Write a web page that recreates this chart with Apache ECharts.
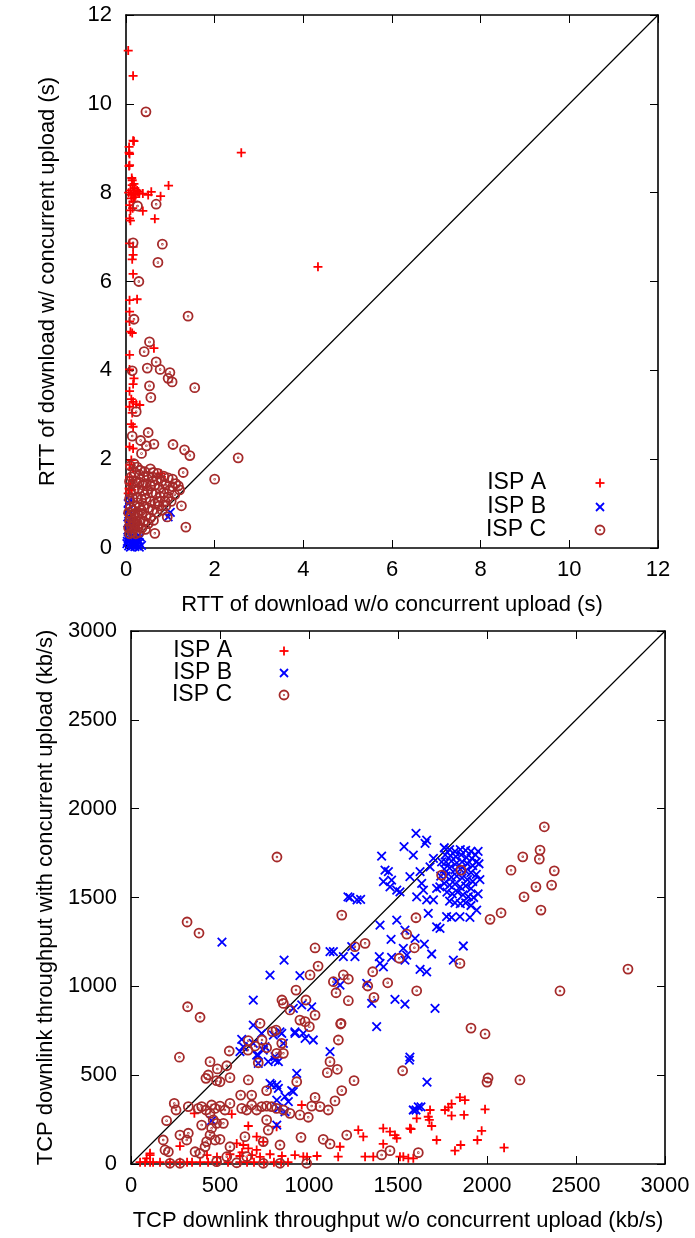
<!DOCTYPE html>
<html>
<head>
<meta charset="utf-8">
<script src="https://cdn.jsdelivr.net/npm/echarts@6/dist/echarts.min.js"></script>
<style>
  html, body { margin: 0; padding: 0; background: #fff; }
  #chart { width: 695px; height: 1238px; }
</style>
</head>
<body>
<div id="chart"></div>
<script>
// ---- series names and axis titles ----
const ispNames = ['ISP A', 'ISP B', 'ISP C'];
const rttXTitle = 'RTT of download w/o concurrent upload (s)';
const rttYTitle = 'RTT of download w/ concurrent upload (s)';
const tputXTitle = 'TCP downlink throughput w/o concurrent upload (kb/s)';
const tputYTitle = 'TCP downlink throughput with concurrent upload (kb/s)';

// ---- RTT (seconds): [without upload, with upload] ----
const rttIspA = [
  [0.05,11.2],[0.16,10.63],[0.18,9.16],[0.07,9.03],[0.07,8.9],[0.07,8.6],[0.13,8.33],
  [0.96,8.16],[0.78,7.92],[0.57,8.02],[0.5,7.95],[0.38,7.98],[0.27,8.02],[0.16,7.98],
  [0.14,8.28],[0.14,8.17],[0.12,7.87],[0.16,7.8],[0.08,7.72],[0.38,7.59],[0.65,7.41],
  [0.08,7.42],[0.1,7.37],[0.08,6.86],[0.16,6.78],[0.16,6.6],[0.14,6.5],[0.16,6.17],
  [0.08,8.62],[0.08,8.87],[0.16,9.17],[0.1,8.05],[0.2,8.1],[0.22,7.95],[0.3,7.98],
  [0.12,7.95],[0.06,8.0],[0.18,8.2],[0.25,8.05],[0.1,7.6],[0.15,7.65],[0.2,7.9],
  [2.6,8.9],[4.33,6.33],
  [0.08,5.58],[0.25,5.6],[0.08,5.32],[0.08,5.1],[0.1,4.87],[0.14,4.84],[0.63,4.5],
  [0.08,4.35],[0.08,4.02],[0.18,3.82],[0.16,3.69],[0.08,3.53],[0.12,3.35],[0.16,3.29],
  [0.23,3.24],[0.31,3.22],[0.08,3.18],[0.14,3.04],[0.12,2.79],[0.16,2.73],[0.08,2.28],
  [0.16,2.24],[0.12,1.98],[0.08,1.87],[0.16,1.79],[0.08,1.6],[0.16,1.53],[0.08,1.31],
  [0.05,1.23],[0.78,1.68],[0.8,1.6],[0.07,1.34],[0.13,1.31],[0.16,1.8],[0.1,1.45]
];
const rttIspB = [
  [0.05,1.0],[0.08,1.08],[0.05,0.86],[0.95,0.7],[1.0,0.8],[0.06,0.6],[0.1,0.5],
  [0.04,0.4],[0.08,0.3],[0.12,0.25],[0.15,0.2],[0.2,0.15],[0.25,0.1],[0.3,0.12],
  [0.05,0.2],[0.1,0.1],[0.15,0.05],[0.2,0.03],[0.25,0.05],[0.3,0.02],[0.35,0.06],
  [0.02,0.1],[0.06,0.05],[0.1,0.02],[0.18,0.08],[0.28,0.18],[0.04,0.7],[0.03,0.15],
  [0.22,0.22],[0.12,0.4],[0.32,0.25],[0.16,0.12]
];
const rttIspC = [
  [0.45,9.82],[0.26,7.7],[0.68,7.74],[0.16,6.87],[0.82,6.84],[0.72,6.43],[0.29,6.0],
  [1.4,5.22],[0.18,5.15],[0.53,4.64],[0.41,4.42],[0.68,4.19],[0.48,4.05],[0.77,4.02],
  [0.99,3.95],[0.95,3.82],[1.04,3.74],[1.55,3.61],[0.53,3.65],[0.56,3.39],[0.14,3.99],
  [0.23,3.07],[0.5,2.6],[0.14,2.52],[0.33,2.42],[0.46,2.3],[0.63,2.34],[1.06,2.33],
  [0.35,2.13],[1.32,2.21],[1.44,2.08],[2.0,1.55],[1.35,0.47],[0.65,0.33],[1.29,1.7],
  [1.21,1.31],[1.25,0.95],[0.93,0.7],[2.53,2.03],
  [0.1,1.85],[0.18,1.9],[0.25,1.82],[0.32,1.75],[0.42,1.72],[0.55,1.78],[0.62,1.7],
  [0.72,1.68],[0.85,1.62],[0.95,1.58],[1.05,1.55],[1.12,1.45],[1.18,1.4],[1.05,1.38],
  [0.98,1.3],[0.9,1.42],[0.8,1.5],[0.7,1.55],[0.6,1.6],[0.5,1.62],[0.4,1.6],[0.3,1.65],
  [0.2,1.7],[0.12,1.6],[0.08,1.5],[0.15,1.45],[0.22,1.5],[0.3,1.48],[0.38,1.42],
  [0.45,1.45],[0.55,1.4],[0.65,1.42],[0.75,1.35],[0.85,1.25],[0.95,1.15],[1.02,1.05],
  [0.88,1.05],[0.78,1.15],[0.68,1.22],[0.58,1.25],[0.48,1.3],[0.38,1.28],[0.28,1.32],
  [0.18,1.3],[0.1,1.25],[0.08,1.1],[0.15,1.12],[0.25,1.15],[0.35,1.1],[0.45,1.12],
  [0.55,1.05],[0.65,1.0],[0.75,0.95],[0.82,0.85],[0.7,0.8],[0.6,0.85],[0.5,0.9],
  [0.4,0.95],[0.3,0.92],[0.2,0.95],[0.1,0.92],[0.06,0.8],[0.12,0.75],[0.2,0.78],
  [0.28,0.75],[0.36,0.78],[0.45,0.72],[0.55,0.68],[0.62,0.62],[0.5,0.55],[0.4,0.6],
  [0.32,0.62],[0.24,0.6],[0.16,0.62],[0.08,0.6],[0.06,0.45],[0.12,0.48],[0.2,0.45],
  [0.28,0.48],[0.36,0.45],[0.44,0.42],[0.3,0.35],[0.22,0.32],[0.14,0.35],[0.08,0.32],
  [0.18,0.55],[0.26,0.52],[0.1,0.68],[0.15,0.85],[0.25,1.02],[0.35,0.85],[0.42,1.2],
  [0.6,1.5],[0.9,0.95],[1.1,1.2],[0.72,1.05]
];

// ---- TCP downlink throughput (kb/s): [without upload, with upload] ----
const tputIspA = [
  [51,10],[79,10],[107,10],[124,10],[163,10],[219,10],[275,10],[315,10],[343,10],
  [388,10],[433,10],[483,10],[545,10],[612,10],[652,10],[691,10],[747,10],[803,10],
  [843,10],[882,10],[107,50],[427,50],[483,40],[556,55],[612,45],[624,65],[680,50],
  [725,40],[781,55],[848,45],[921,50],[989,40],[1045,45],[88,32],[107,60],[275,101],
  [594,116],[631,107],[659,88],[706,79],[706,154],[743,125],[659,214],[566,281],
  [356,285],[959,332],[818,210],[1174,97],[1277,191],[1305,154],[1417,201],[1455,182],
  [1483,163],[1493,145],[1417,113],[1567,201],[1605,257],[1164,41],[1315,41],[1361,41],
  [1530,41],[1586,32],[1511,41],[1558,32],[1573,197],[1680,304],[1676,248],[1689,214],
  [1670,266],[1717,135],[1764,304],[1783,319],[1801,338],[1801,272],[1848,375],
  [1876,360],[1871,276],[1820,75],[1852,107],[1946,135],[1970,187],[1989,308],
  [2096,92],[968,41]
];
const tputIspB = [
  [1601,1861],[1661,1823],[1652,1805],[1534,1786],[1408,1733],[1586,1739],[1427,1654],
  [1446,1645],[1418,1589],[1464,1598],[1455,1560],[1493,1542],[1511,1532],[1230,1499],
  [1290,1490],[1567,1617],[1624,1645],[1633,1579],[1680,1673],[1699,1720],[1605,1504],
  [1643,1542],[1661,1486],[1699,1486],[1717,1551],[1773,1392],[1801,1388],[1848,1392],
  [1904,1388],[1942,1429],[1670,1411],[1717,1335],[1736,1326],[1493,1373],[1399,1345],
  [1461,1264],[1539,1317],[1596,1270],[1648,1238],[1867,1227],[1689,1182],[1395,1167],
  [1399,1129],[1418,1110],[1530,1214],[1549,1176],[1539,1148],[1464,1163],[1624,1096],
  [1661,1082],[1811,1148],[1483,927],[1539,900],[1708,876],[1352,904],[1380,773],
  [1118,1195],[1137,1195],[1193,1167],[1240,1223],[1258,1167],[1156,1026],[1174,1007],
  [1324,1017],[1219,1503],[1270,1486],[1567,602],[1663,461],[1601,304],[1629,321],
  [1760,1780],[1790,1770],[1820,1760],[1850,1770],[1880,1765],[1910,1760],[1935,1740],
  [1765,1740],[1795,1735],[1825,1730],[1855,1740],[1885,1725],[1915,1720],[1940,1700],
  [1770,1700],[1800,1705],[1830,1695],[1860,1700],[1890,1690],[1920,1680],[1760,1660],
  [1790,1665],[1820,1655],[1850,1660],[1880,1650],[1910,1640],[1940,1630],[1770,1620],
  [1800,1615],[1830,1620],[1860,1610],[1890,1600],[1920,1590],[1760,1580],[1790,1570],
  [1820,1575],[1850,1560],[1880,1565],[1910,1550],[1775,1530],[1805,1520],[1835,1530],
  [1865,1515],[1895,1505],[1925,1500],[1790,1480],[1820,1470],[1850,1465],[1880,1470],
  [1910,1455],[1745,1700],[1740,1620],[1735,1560],[1950,1760],[1955,1690],[1960,1600],
  [1950,1520],
  [511,1249],[612,632],[631,660],[687,679],[715,613],[743,641],[715,566],[771,576],
  [809,604],[828,576],[800,726],[847,735],[921,735],[781,454],[819,445],[828,426],
  [865,379],[884,351],[912,407],[819,360],[828,313],[865,294],[819,219],[931,510],
  [978,707],[453,244],[622,702],[687,782],[734,735],[753,660],[706,613],[809,585],
  [856,679],[837,744],[921,744],[968,735],[1024,698],[687,923],[912,876],[959,895],
  [1015,885],[1118,632],[790,445],[903,413],[1564,585],[1586,304],[1614,322],
  [781,1063],[860,1148],[949,1060]
];
const tputIspC = [
  [820,1728],[2322,1898],[2298,1767],[2294,1716],[2201,1729],[2135,1654],[2378,1650],
  [2275,1560],[2363,1570],[2208,1504],[2303,1429],[2017,1377],[2079,1414],[1854,1654],
  [1745,1626],[1601,1386],[1549,1294],[1592,1217],[1507,1158],[2792,1097],[2410,974],
  [2185,473],[2006,484],[2000,461],[1910,765],[1989,732],[1526,525],[1614,64],
  [1848,1129],[1184,1401],[1315,1242],[1258,1223],[1358,1082],[1193,1064],[1221,1041],
  [1137,1026],[1152,964],[1330,1002],[1365,938],[1442,1020],[1605,975],[1221,919],
  [1180,792],[318,885],[388,826],[272,601],[444,576],[485,535],[538,553],[434,501],
  [421,482],[481,469],[556,486],[500,463],[552,636],[659,473],[725,792],[659,694],
  [697,664],[762,654],[794,745],[847,679],[818,623],[856,623],[715,570],[856,904],
  [978,801],[1002,773],[1034,838],[1178,788],[1165,698],[1118,576],[1103,514],
  [1159,533],[931,463],[762,413],[1253,469],[1184,413],[1146,355],[1108,304],[1034,375],
  [1015,326],[378,313],[397,323],[421,304],[453,332],[472,313],[500,326],[528,304],
  [556,341],[622,313],[650,304],[678,332],[706,304],[734,323],[762,326],[790,323],
  [818,313],[856,304],[893,285],[949,276],[996,263],[1062,323],[322,323],[243,341],
  [253,304],[200,244],[444,285],[462,248],[453,201],[444,163],[481,229],[519,229],
  [397,219],[500,139],[425,126],[416,97],[472,135],[556,97],[616,388],[678,388],
  [762,248],[771,191],[743,126],[837,107],[640,154],[650,41],[594,7],[538,41],[481,13],
  [388,60],[360,69],[313,135],[275,163],[322,173],[181,135],[210,69],[191,79],[275,4],
  [219,4],[955,150],[1080,139],[1118,113],[987,4],[837,4],[743,4],[1212,163],[1408,51],
  [1455,75],[315,1362],[382,1300],[1034,1216],[1051,1114],[1006,1064],[927,979],
  [983,923],[893,867],[848,923],[949,810],[815,754],[736,698],[657,641]
];

// ---- styling ----
const FONT = '"Liberation Sans", Arial, Helvetica, sans-serif';
const RED = '#ff0000', BLUE = '#0000ff', BROWN = '#a52a2a';
const SYM_PLUS = 'path://M0,5L10,5M5,0L5,10';
const SYM_CROSS = 'path://M0,0L10,10M10,0L0,10';
const SYM_RING = 'path://M0,5A5,5,0,1,1,10,5A5,5,0,1,1,0,5ZM4.6,5A0.4,0.4,0,1,1,5.4,5A0.4,0.4,0,1,1,4.6,5Z';

const grids = [
  { left: 126, top: 15, width: 532, height: 533 },
  { left: 131, top: 631, width: 534, height: 533 }
];
const ranges = [
  { max: 12, interval: 2 },
  { max: 3000, interval: 500 }
];

function axisPair(gridIndex, isX, name) {
  const r = ranges[gridIndex];
  const common = {
    gridIndex, type: 'value', min: 0, max: r.max, interval: r.interval,
    splitLine: { show: false },
    axisLine: { show: true, onZero: false, lineStyle: { color: '#000', width: 1.6 } },
    axisTick: { show: true, inside: true, length: 8, lineStyle: { color: '#000', width: 1 } }
  };
  const main = Object.assign({}, common, {
    position: isX ? 'bottom' : 'left',
    name, nameLocation: 'middle',
    nameGap: isX ? 46 : 67,
    nameTextStyle: { fontFamily: FONT, fontSize: 22, color: '#000' },
    axisLabel: {
      show: true, fontFamily: FONT, fontSize: 22, color: '#000',
      margin: isX ? 11 : 14,
      formatter: v => String(v)
    }
  });
  const mirror = Object.assign({}, common, {
    position: isX ? 'top' : 'right',
    axisLabel: { show: false }
  });
  return [main, mirror];
}

const xAxes = [...axisPair(0, true, rttXTitle), ...axisPair(1, true, tputXTitle)];
const yAxes = [...axisPair(0, false, rttYTitle), ...axisPair(1, false, tputYTitle)];

function scatter(name, data, gi, symbol, color, size, width) {
  return {
    name, type: 'scatter', data, xAxisIndex: gi * 2, yAxisIndex: gi * 2,
    symbol, symbolSize: size, silent: true, animation: false,
    itemStyle: { color: 'rgba(0,0,0,0)', borderColor: color, borderWidth: width, opacity: 1 }
  };
}
function diagonal(gi) {
  const m = ranges[gi].max;
  return {
    type: 'line', data: [[0, 0], [m, m]], xAxisIndex: gi * 2, yAxisIndex: gi * 2,
    showSymbol: false, silent: true, animation: false, z: 1,
    lineStyle: { color: '#000', width: 1.2 }
  };
}

const groups = [[rttIspA, rttIspB, rttIspC], [tputIspA, tputIspB, tputIspC]];
const series = [];
[0, 1].forEach(gi => {
  series.push(diagonal(gi));
  series.push(scatter(ispNames[0], groups[gi][0], gi, SYM_PLUS, RED, 9, 1.8));
  series.push(scatter(ispNames[1], groups[gi][1], gi, SYM_CROSS, BLUE, 8.5, 1.8));
  series.push(scatter(ispNames[2], groups[gi][2], gi, SYM_RING, BROWN, 9, 1.8));
});

// key: right-aligned names with their markers to the right
function keyBlock(textRight, markX, rows) {
  const els = [];
  const colors = [RED, BLUE, BROWN];
  rows.forEach((y, i) => {
    els.push({
      type: 'text', x: textRight, y,
      style: { text: ispNames[i], font: '23px ' + FONT, fill: '#000',
               textAlign: 'right', textVerticalAlign: 'middle', align: 'right', verticalAlign: 'middle' }
    });
    const c = colors[i];
    const ls = { stroke: c, lineWidth: 1.8 };
    if (i === 0) {
      els.push({ type: 'line', shape: { x1: markX - 4.5, y1: y, x2: markX + 4.5, y2: y }, style: ls });
      els.push({ type: 'line', shape: { x1: markX, y1: y - 4.5, x2: markX, y2: y + 4.5 }, style: ls });
    } else if (i === 1) {
      els.push({ type: 'line', shape: { x1: markX - 4, y1: y - 4, x2: markX + 4, y2: y + 4 }, style: ls });
      els.push({ type: 'line', shape: { x1: markX - 4, y1: y + 4, x2: markX + 4, y2: y - 4 }, style: ls });
    } else {
      els.push({ type: 'circle', shape: { cx: markX, cy: y, r: 4.5 }, style: { stroke: c, lineWidth: 1.8, fill: null } });
      els.push({ type: 'circle', shape: { cx: markX, cy: y, r: 0.9 }, style: { fill: c } });
    }
  });
  return els;
}

const chart = echarts.init(document.getElementById('chart'), null, { renderer: 'canvas' });
chart.setOption({
  backgroundColor: '#fff',
  animation: false,
  grid: grids,
  xAxis: xAxes,
  yAxis: yAxes,
  series,
  graphic: [
    ...keyBlock(546, 600, [483, 507, 530]),
    ...keyBlock(232, 284, [651, 673, 695])
  ]
});
</script>
</body>
</html>
